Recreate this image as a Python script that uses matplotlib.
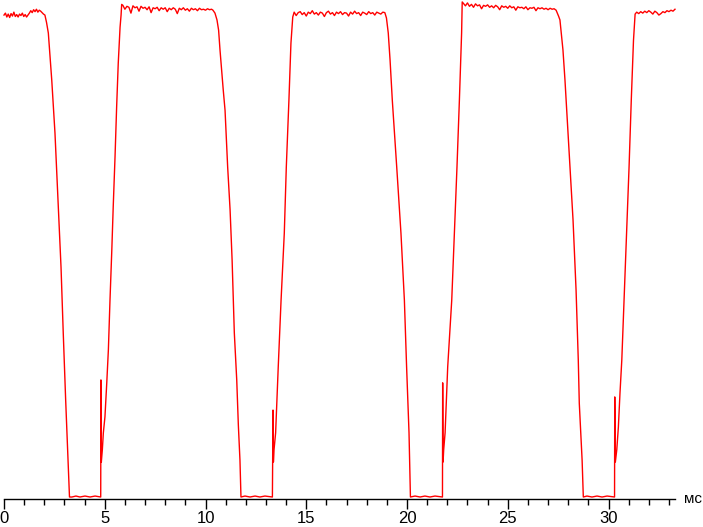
import matplotlib
matplotlib.use("Agg")
import matplotlib.pyplot as plt
from matplotlib.ticker import MultipleLocator

# Each trace piece: time in ms, brightness in % of plateau

plateau1_t = [0.00, 0.07, 0.14, 0.21, 0.28, 0.35, 0.42, 0.49, 0.56, 0.63, 0.70, 0.77, 0.84, 0.91, 0.98,
              1.05, 1.12, 1.19, 1.26, 1.33, 1.40, 1.47, 1.54, 1.61, 1.68, 1.75, 1.82, 1.89, 1.96, 2.03]
plateau1_v = [99.4, 99.8, 99.0, 99.6, 98.9, 99.7, 99.2, 100.0, 99.1, 99.5, 99.0, 99.6, 99.3, 99.8, 99.1,
              99.5, 99.0, 99.4, 99.8, 100.3, 99.9, 100.5, 100.1, 100.6, 100.0, 100.4, 100.2, 99.9, 99.6, 99.4]

fall1_t = [2.11, 2.20, 2.28, 2.37, 2.53, 2.68, 2.83, 2.94, 3.06, 3.19, 3.25]
fall1_v = [97.9, 95.7, 91.2, 86.0, 75.1, 61.3, 47.5, 34.0, 20.2, 6.4, 0.2]

low1_t = [3.37, 3.57, 3.77, 4.02, 4.27, 4.52, 4.80]
low1_v = [0.2, 0.4, 0.2, 0.4, 0.2, 0.4, 0.2]

rise1_t = [4.81, 4.83, 4.88, 4.93, 5.01, 5.10, 5.18, 5.26, 5.35, 5.42, 5.51, 5.59, 5.67, 5.76, 5.81, 5.84]
rise1_v = [24.3, 7.4, 9.9, 13.4, 16.7, 23.7, 30.5, 40.7, 51.0, 59.9, 70.2, 80.5, 89.5, 96.9, 99.4, 101.6]

plateau2_t = [5.9, 6.0, 6.1, 6.2, 6.3, 6.4, 6.5, 6.6, 6.7, 6.8, 6.9, 7.0, 7.1, 7.2, 7.3, 7.4, 7.5, 7.6,
              7.7, 7.8, 7.9, 8.0, 8.1, 8.2, 8.3, 8.4, 8.5, 8.6, 8.7, 8.8, 8.9, 9.0, 9.1, 9.2, 9.3, 9.4,
              9.5, 9.6, 9.7, 9.8, 9.9, 10.0, 10.1, 10.2, 10.3, 10.37]
plateau2_v = [101.4, 100.6, 101.2, 101.0, 99.8, 101.3, 100.9, 101.1, 100.2, 101.2, 100.8, 101.0, 100.5,
              101.1, 99.9, 100.9, 100.7, 101.0, 100.3, 100.9, 100.6, 100.9, 100.1, 100.8, 100.5, 100.9,
              100.6, 99.7, 100.8, 100.5, 100.9, 100.4, 100.7, 100.2, 100.8, 100.5, 100.7, 100.3, 100.8,
              100.5, 100.6, 100.4, 100.7, 100.5, 100.6, 100.4]

fall2_t = [10.47, 10.57, 10.65, 10.72, 10.80, 10.88, 10.97, 11.10, 11.22, 11.32, 11.43, 11.55, 11.63,
           11.71, 11.76]
fall2_v = [99.8, 98.4, 96.3, 92.2, 88.1, 84.0, 79.8, 68.1, 59.3, 49.0, 34.0, 24.3, 15.0, 7.8, 0.2]

low2_t = [11.96, 12.21, 12.46, 12.70, 12.95, 13.32]
low2_v = [0.4, 0.2, 0.4, 0.2, 0.4, 0.2]

rise2_t = [13.35, 13.37, 13.40, 13.48, 13.61, 13.75, 13.91, 14.01, 14.14, 14.24, 14.33]
rise2_v = [18.1, 7.4, 9.9, 13.4, 27.0, 40.7, 54.5, 68.1, 81.9, 93.6, 99.0]

plateau3_t = [14.4, 14.5, 14.6, 14.7, 14.8, 14.9, 15.0, 15.1, 15.2, 15.3, 15.4, 15.5, 15.6, 15.7, 15.8,
              15.9, 16.0, 16.1, 16.2, 16.3, 16.4, 16.5, 16.6, 16.7, 16.8, 16.9, 17.0, 17.1, 17.2, 17.3,
              17.4, 17.5, 17.6, 17.7, 17.8, 17.9, 18.0, 18.1, 18.2, 18.3, 18.4, 18.5, 18.6, 18.7, 18.8,
              18.9]
plateau3_v = [100.0, 99.3, 99.9, 100.1, 99.5, 99.9, 99.2, 100.0, 99.7, 100.3, 99.6, 99.9, 99.4, 100.0,
              99.8, 99.1, 99.9, 100.2, 99.6, 99.9, 99.3, 100.0, 99.7, 100.1, 99.5, 99.9, 99.8, 99.2,
              100.0, 99.6, 100.2, 99.7, 99.9, 99.3, 100.0, 99.8, 99.5, 100.1, 99.7, 99.9, 99.4, 100.0,
              99.8, 99.6, 100.0, 99.9]

fall3_t = [18.98, 19.07, 19.16, 19.27, 19.49, 19.70, 19.87, 19.98, 20.10, 20.17]
fall3_v = [98.8, 95.7, 90.1, 81.9, 68.1, 54.5, 40.7, 27.0, 13.4, 0.2]

low3_t = [20.40, 20.65, 20.89, 21.14, 21.39, 21.76]
low3_v = [0.4, 0.2, 0.4, 0.2, 0.4, 0.2]

rise3_t = [21.77, 21.79, 21.82, 21.89, 22.02, 22.22, 22.35, 22.48, 22.60, 22.71, 22.74]
rise3_v = [23.7, 7.4, 9.9, 13.4, 27.0, 40.7, 54.5, 68.1, 81.9, 95.7, 102.1]

plateau4_t = [22.8, 22.9, 23.0, 23.1, 23.2, 23.3, 23.4, 23.5, 23.6, 23.7, 23.8, 23.9, 24.0, 24.1, 24.2,
              24.3, 24.4, 24.5, 24.6, 24.7, 24.8, 24.9, 25.0, 25.1, 25.2, 25.3, 25.4, 25.5, 25.6, 25.7,
              25.8, 25.9, 26.0, 26.1, 26.2, 26.3, 26.4, 26.5, 26.6, 26.7, 26.8, 26.9, 27.0, 27.1, 27.2,
              27.3, 27.4]
plateau4_v = [101.8, 101.3, 101.9, 101.2, 101.6, 101.0, 101.7, 101.3, 101.5, 100.7, 101.4, 101.2,
              101.5, 101.0, 101.3, 100.9, 101.4, 101.1, 100.5, 101.3, 101.0, 101.2, 100.8, 101.3,
              100.9, 101.1, 100.4, 101.1, 100.9, 101.0, 100.7, 101.1, 100.5, 100.9, 100.8, 101.0,
              100.3, 100.9, 100.7, 100.9, 100.6, 100.8, 100.5, 100.8, 100.6, 100.7, 100.4]

fall4_t = [27.52, 27.59, 27.74, 27.84, 28.04, 28.24, 28.39, 28.50, 28.55, 28.69, 28.75]
fall4_v = [99.2, 98.4, 92.2, 86.0, 71.6, 57.2, 42.8, 28.4, 19.5, 7.8, 0.2]

low4_t = [28.93, 29.18, 29.43, 29.68, 29.93, 30.30]
low4_v = [0.4, 0.2, 0.4, 0.2, 0.4, 0.2]

rise4_t = [30.31, 30.34, 30.41, 30.49, 30.57, 30.66, 30.77, 30.89, 31.02, 31.13, 31.24, 31.32]
rise4_v = [20.8, 7.4, 9.9, 14.6, 21.6, 28.4, 40.7, 54.5, 68.1, 81.9, 94.2, 99.6]

plateau5_t = [31.4, 31.5, 31.6, 31.7, 31.8, 31.9, 32.0, 32.1, 32.2, 32.3, 32.4, 32.5, 32.6, 32.7, 32.8,
              32.9, 33.0, 33.1, 33.2, 33.3]
plateau5_v = [100.0, 99.7, 100.1, 99.8, 100.2, 99.9, 100.3, 100.0, 99.6, 100.2, 99.9, 99.4, 99.7,
              100.1, 99.9, 100.3, 100.1, 100.4, 100.2, 100.6]

time_ms = (plateau1_t + fall1_t + low1_t + rise1_t + plateau2_t + fall2_t + low2_t + rise2_t
           + plateau3_t + fall3_t + low3_t + rise3_t + plateau4_t + fall4_t + low4_t + rise4_t
           + plateau5_t)
level = (plateau1_v + fall1_v + low1_v + rise1_v + plateau2_v + fall2_v + low2_v + rise2_v
         + plateau3_v + fall3_v + low3_v + rise3_v + plateau4_v + fall4_v + low4_v + rise4_v
         + plateau5_v)

W, H = 703, 527
fig = plt.figure(figsize=(W / 100, H / 100), dpi=100)
ax = fig.add_axes([4 / W, (H - 499) / H, 671 / W, 499 / H])

ax.plot(time_ms, level, color="#ff0000", lw=1.0, clip_on=False, zorder=3)

ax.set_xlim(0, 33.3)
ax.set_ylim(-0.21, 102.5)

for side in ("left", "right", "top"):
    ax.spines[side].set_visible(False)
ax.spines["bottom"].set_linewidth(1.0)
ax.spines["bottom"].set_color("black")
ax.set_yticks([])

ax.xaxis.set_major_locator(MultipleLocator(5))
ax.xaxis.set_minor_locator(MultipleLocator(1))
ax.tick_params(axis="x", which="major", direction="out", length=7.5, width=1.0,
               color="black", pad=1, labelsize=12)
ax.tick_params(axis="x", which="minor", direction="out", length=4, width=1.0, color="black")
for lab in ax.get_xticklabels():
    lab.set_fontfamily("Liberation Sans")

fig.text(684 / W, 1 - 499 / H, "мс", fontsize=11, family="Liberation Sans",
         ha="left", va="center")

fig.savefig("out.png", dpi=100)
